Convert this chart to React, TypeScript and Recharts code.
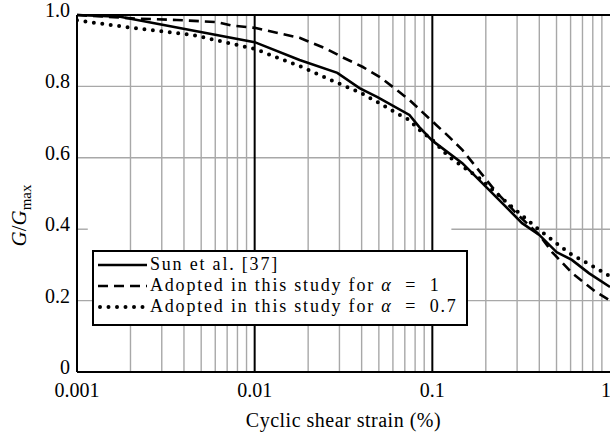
import React from 'react';
import { LineChart, Line, XAxis, YAxis, ReferenceLine, Legend } from 'recharts';

const FONT = '"Liberation Serif", "Times New Roman", serif';
const GRID = '#a8a8a8';

// axis ticks
const strainTicks = [0.001, 0.01, 0.1, 1];
const strainTickLabels = ['0.001', '0.01', '0.1', '1'];
const ratioTicks = [0, 0.2, 0.4, 0.6, 0.8, 1];
const ratioTickLabels = ['0', '0.2', '0.4', '0.6', '0.8', '1.0'];
const minorStrain = [
  0.002, 0.003, 0.004, 0.005, 0.006, 0.007, 0.008, 0.009,
  0.02, 0.03, 0.04, 0.05, 0.06, 0.07, 0.08, 0.09,
  0.2, 0.3, 0.4, 0.5, 0.6, 0.7, 0.8, 0.9,
];
const decadeLines = [0.01, 0.1];
const fullRatioGrid = [0.2, 0.6, 0.8];

// Sun et al. [37]
const sunStrain = [0.001, 0.00175, 0.01, 0.0179, 0.0292, 0.0389, 0.0491, 0.0743, 0.0845, 0.1, 0.1475, 0.229, 0.32, 0.4, 0.5, 0.61, 0.76, 1];
const sunRatio = [1.0, 0.995, 0.924, 0.874, 0.838, 0.795, 0.77, 0.72, 0.686, 0.648, 0.585, 0.49, 0.417, 0.384, 0.336, 0.314, 0.277, 0.238];

// adopted, alpha = 1
const alpha1Strain = [0.001, 0.00217, 0.00365, 0.00613, 0.00752, 0.01, 0.0179, 0.0196, 0.0254, 0.0311, 0.0404, 0.0504, 0.0612, 0.0743, 0.0879, 0.1052, 0.1247, 0.1475, 0.229, 0.2965, 0.4, 0.472, 0.612, 0.834, 1];
const alpha1Ratio = [1.0, 0.99, 0.986, 0.98, 0.97, 0.964, 0.936, 0.928, 0.905, 0.882, 0.855, 0.827, 0.795, 0.762, 0.728, 0.692, 0.658, 0.622, 0.504, 0.445, 0.384, 0.336, 0.277, 0.224, 0.2];

// adopted, alpha = 0.7
const alpha07Strain = [0.001, 0.00191, 0.00449, 0.01, 0.0179, 0.0232, 0.0311, 0.0389, 0.0504, 0.0628, 0.0743, 0.0845, 0.1, 0.1247, 0.1837, 0.281, 0.4, 0.589, 0.834, 1];
const alpha07Ratio = [0.985, 0.966, 0.944, 0.905, 0.857, 0.832, 0.804, 0.784, 0.753, 0.725, 0.706, 0.678, 0.65, 0.602, 0.543, 0.462, 0.398, 0.333, 0.291, 0.268];

const toPoints = (xs: number[], ys: number[]) => xs.map((x, i) => ({ strain: x, ratio: ys[i] }));

const series = [
  { key: 'sun', label: 'Sun et al. [37]', alpha: null, data: toPoints(sunStrain, sunRatio), dash: undefined, width: 2.6, cap: 'butt' },
  { key: 'a1', label: 'Adopted in this study for ', alpha: '1', data: toPoints(alpha1Strain, alpha1Ratio), dash: '10 6', width: 2.6, cap: 'butt' },
  { key: 'a07', label: 'Adopted in this study for ', alpha: '0.7', data: toPoints(alpha07Strain, alpha07Ratio), dash: '0 8.5', width: 4, cap: 'round' },
];

const renderLegend = () => (
  <div
    style={{
      boxSizing: 'border-box',
      width: 376,
      height: 76,
      background: '#fff',
      border: '2px solid #000',
      padding: '2px 0 0 4px',
      fontFamily: FONT,
      fontSize: 18,
      color: '#000',
      lineHeight: '21px',
      whiteSpace: 'nowrap',
    }}
  >
    {series.map((s) => (
      <div key={s.key} style={{ display: 'flex', alignItems: 'center', height: 21 }}>
        <svg width={49} height={21} style={{ marginRight: 3, flex: 'none' }}>
          <line
            x1={s.cap === 'round' ? 2 : 0}
            y1={11}
            x2={49}
            y2={11}
            stroke="#000"
            strokeWidth={s.width}
            strokeDasharray={s.dash}
            strokeLinecap={s.cap as any}
          />
        </svg>
        <span style={{ letterSpacing: 1.8 }}>
          {s.label}
          {s.alpha !== null && (
            <>
              <i>α</i>&nbsp; =&nbsp; {s.alpha}
            </>
          )}
        </span>
      </div>
    ))}
  </div>
);

const renderYLabel = (props: any) => {
  const vb = props.viewBox || { x: 0, y: 15, height: 357 };
  return (
    <text transform={`translate(26, ${vb.y + vb.height / 2 + 22}) rotate(-90)`} textAnchor="middle" fill="#000" fontSize={21} fontFamily={FONT}>
      <tspan fontStyle="italic">G</tspan>
      <tspan>/</tspan>
      <tspan fontStyle="italic">G</tspan>
      <tspan fontSize={15} dy={5}>max</tspan>
    </text>
  );
};

const XTick = ({ x, y, payload }: any) => (
  <text x={x} y={y + 17} textAnchor="middle" fill="#000" fontSize={20} fontFamily={FONT}>
    {strainTickLabels[strainTicks.indexOf(payload.value)]}
  </text>
);

const YTick = ({ x, y, payload }: any) => (
  <text x={x + 1} y={y + 2} textAnchor="end" fill="#000" fontSize={20} fontFamily={FONT}>
    {ratioTickLabels[ratioTicks.indexOf(payload.value)]}
  </text>
);

export default function App() {
  return (
    <div style={{ position: 'absolute', left: 0, top: 0, width: 610, height: 432, background: '#fff', fontFamily: FONT }}>
      <LineChart width={610} height={432} margin={{ top: 15, right: 0, bottom: 0, left: 0 }}>
        <XAxis
          dataKey="strain"
          type="number"
          scale="log"
          domain={[0.001, 1]}
          ticks={strainTicks}
          allowDataOverflow
          height={60}
          axisLine={{ stroke: '#000', strokeWidth: 2 }}
          tickLine={false}
          tick={<XTick />}
          label={{ value: 'Cyclic shear strain (%)', position: 'insideBottom', offset: 5, fill: '#000', fontSize: 20, fontFamily: FONT, letterSpacing: 0.5 }}
        />
        <YAxis
          dataKey="ratio"
          type="number"
          domain={[0, 1]}
          ticks={ratioTicks}
          width={77}
          axisLine={{ stroke: '#000', strokeWidth: 2 }}
          tickLine={false}
          tick={<YTick />}
          label={{ content: renderYLabel }}
        />
        {minorStrain.map((v) => (
          <ReferenceLine key={`mx${v}`} x={v} stroke={GRID} strokeWidth={1.4} />
        ))}
        {fullRatioGrid.map((v) => (
          <ReferenceLine key={`gy${v}`} y={v} stroke={GRID} strokeWidth={1.4} />
        ))}
        <ReferenceLine segment={[{ x: 0.128, y: 0.4 }, { x: 1, y: 0.4 }]} stroke={GRID} strokeWidth={1.4} />
        <ReferenceLine segment={[{ x: 0.001, y: 0.4 }, { x: 0.00115, y: 0.4 }]} stroke={GRID} strokeWidth={1.4} />
        {decadeLines.map((v) => (
          <ReferenceLine key={`dx${v}`} x={v} stroke="#000" strokeWidth={2} />
        ))}
        <ReferenceLine y={1} stroke="#000" strokeWidth={2} />
        {series.map((s) => (
          <Line
            key={s.key}
            data={s.data}
            dataKey="ratio"
            type="linear"
            stroke="#000"
            strokeWidth={s.width}
            strokeDasharray={s.dash}
            strokeLinecap={s.cap as any}
            dot={false}
            activeDot={false}
            isAnimationActive={false}
          />
        ))}
        <Legend
          layout="vertical"
          align="center"
          verticalAlign="middle"
          content={renderLegend}
          wrapperStyle={{ left: 92, top: 250, width: 'auto', height: 'auto' }}
        />
      </LineChart>
    </div>
  );
}
